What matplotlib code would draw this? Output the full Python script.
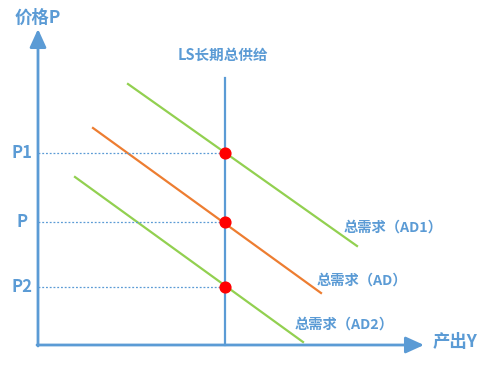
import matplotlib
matplotlib.use("Agg")
import matplotlib.pyplot as plt

plt.rcParams['font.family'] = ['Noto Sans CJK SC', 'DejaVu Sans']

# Data (arbitrary economic units: output Y horizontal, price P vertical)
ls_output = 187
ls_top = 267
price_labels = ["P1", "P", "P2"]
price_levels = [192, 123, 58]
curve_names = ["总需求（AD1）", "总需求（AD）", "总需求（AD2）"]
curve_x = [[90, 319], [55, 283], [37, 265]]
curve_y = [[261, 99], [217, 52], [168, 3]]
curve_colors = ["#92D050", "#ED7D31", "#92D050"]
label_pos = [(306, 117), (279, 64), (257, 20)]

blue = "#5B9BD5"

fig = plt.figure(figsize=(4.93, 3.70), dpi=100)
ax = fig.add_axes([0, 0, 1, 1])
ax.set_xlim(-38, 455)
ax.set_ylim(-25, 345)
ax.axis("off")

# axes arrows
ax.annotate("", xy=(0, 316), xytext=(0, -1),
            arrowprops=dict(arrowstyle="-|>,head_length=1.1,head_width=0.5",
                            color=blue, lw=2, shrinkA=0, shrinkB=0))
ax.annotate("", xy=(386, 0), xytext=(-1, 0),
            arrowprops=dict(arrowstyle="-|>,head_length=1.1,head_width=0.5",
                            color=blue, lw=2, shrinkA=0, shrinkB=0))

# LS vertical line
ax.plot([ls_output, ls_output], [0, ls_top], color=blue, lw=1.6)

# AD curves
for xs, ys, c in zip(curve_x, curve_y, curve_colors):
    ax.plot(xs, ys, color=c, lw=1.6)

# dotted guides and dots
for lab, p in zip(price_labels, price_levels):
    ax.plot([0, ls_output], [p, p], color=blue, lw=0.9, linestyle=(0, (1.5, 1.5)))
    ax.scatter([ls_output], [p], s=60, color="#FF0000", zorder=5)
    ax.text(-16, p, lab, color=blue, fontsize=12, fontweight="heavy",
            ha="center", va="center")

for name, (lx, ly) in zip(curve_names, label_pos):
    ax.text(lx, ly, name, color=blue, fontsize=10.3, fontweight="heavy",
            ha="left", va="center")

ax.text(-23, 327, "价格P", color=blue, fontsize=12.5, fontweight="heavy",
        ha="left", va="center")
ax.text(395, 3, "产出Y", color=blue, fontsize=12.5, fontweight="heavy",
        ha="left", va="center")
ax.text(ls_output - 2, 290, "LS长期总供给", color=blue, fontsize=10.5,
        fontweight="heavy", ha="center", va="center")

fig.savefig("out.png", dpi=100)
